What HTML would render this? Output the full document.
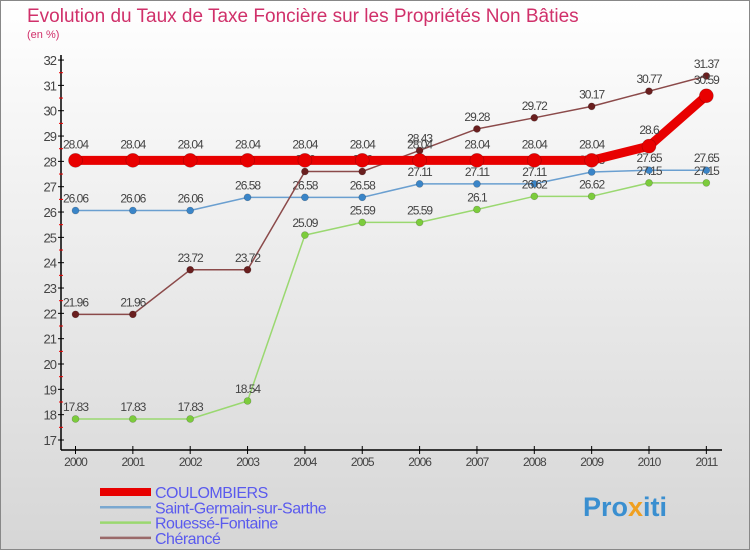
<!DOCTYPE html>
<html><head><meta charset="utf-8"><style>
body{margin:0;width:750px;height:550px;overflow:hidden;font-family:"Liberation Sans",sans-serif}
svg{display:block}
</style></head><body>
<svg id="c" width="750" height="550" xmlns="http://www.w3.org/2000/svg">
<defs><linearGradient id="bg" x1="0" y1="0" x2="0" y2="1"><stop offset="0" stop-color="#ffffff"/><stop offset="1" stop-color="#d6d6d6"/></linearGradient></defs>
<rect x="0.5" y="0.5" width="749" height="549" fill="url(#bg)" stroke="#888"/>
<text x="27" y="22" font-size="19" fill="#d0306a">Evolution du Taux de Taxe Foncière sur les Propriétés Non Bâties</text>
<text x="27" y="38" font-size="11" fill="#d0306a">(en %)</text>
<g id="axes"></g><g id="series"></g><g id="legend"></g>
<text x="583" y="516" font-size="27" font-weight="bold" fill="#3a8fd0">Pro<tspan fill="#f0a020">x</tspan>iti</text>
</svg>
<script>
const years=[2000,2001,2002,2003,2004,2005,2006,2007,2008,2009,2010,2011];
const yTicks=[17,18,19,20,21,22,23,24,25,26,27,28,29,30,31,32];
const coulombiers=[28.04,28.04,28.04,28.04,28.04,28.04,28.04,28.04,28.04,28.04,28.6,30.59];
const saintGermain=[26.06,26.06,26.06,26.58,26.58,26.58,27.11,27.11,27.11,27.58,27.65,27.65];
const rouesse=[17.83,17.83,17.83,18.54,25.09,25.59,25.59,26.1,26.62,26.62,27.15,27.15];
const cherance=[21.96,21.96,23.72,23.72,27.6,27.6,28.43,29.28,29.72,30.17,30.77,31.37];
const NS="http://www.w3.org/2000/svg";
const X=i=>75.5+i*57.35;
const Y=v=>440-(v-17)*25.33;
function mk(tag,attrs,parent,txt){const e=document.createElementNS(NS,tag);for(const k in attrs)e.setAttribute(k,attrs[k]);if(txt!==undefined)e.textContent=txt;parent.appendChild(e);return e;}
const ax=document.getElementById('axes');
let a=mk('line',{x1:61,y1:55,x2:61,y2:450,stroke:'#000','stroke-width':1.5},ax);


a=mk('line',{x1:61,y1:450,x2:722,y2:450,stroke:'#000','stroke-width':1.5},ax);


yTicks.forEach((v,i)=>{
 mk('line',{x1:58,y1:Y(v),x2:64,y2:Y(v),stroke:'#000'},ax);
 if(i<yTicks.length-1) mk('line',{x1:59,y1:Y(v+0.5),x2:63,y2:Y(v+0.5),stroke:'#e00'},ax);
 const t=mk('text',{x:56,y:Y(v)+5,'font-size':13,'text-anchor':'end',fill:'#444','letter-spacing':'-1'},ax,v);
 
 
});
years.forEach((y,i)=>{
 mk('line',{x1:X(i),y1:446,x2:X(i),y2:454,stroke:'#000'},ax);
 const t=mk('text',{x:X(i),y:466,'font-size':12,'text-anchor':'middle',fill:'#444','letter-spacing':'-1'},ax,y);
 
 
});
const sg=document.getElementById('series');
function draw(data,name,color,w,r,fill,dy){
 const g=mk('g',{},sg);
 
 
 const p=mk('polyline',{points:data.map((v,i)=>X(i)+','+Y(v)).join(' '),fill:'none',stroke:color,'stroke-width':w,'stroke-linejoin':'round'},g);
 
 
 data.forEach((v,i)=>{
  const c=mk('circle',{cx:X(i),cy:Y(v),r:r,fill:fill,stroke:'rgba(0,0,0,0.25)','stroke-width':0.6},g);
  
  
  const t=mk('text',{x:X(i),y:Y(v)+dy,'font-size':12,'text-anchor':'middle',fill:'#444','letter-spacing':'-1'},g,v);
  
  
 });
}
draw(saintGermain,'saint-germain','#6a9fd0',1.5,3.5,'#3a85c8',-8);
draw(rouesse,'rouesse','#9ad870',1.5,3.5,'#7ccc3c',-8);
draw(cherance,'cherance','#8b4a4a',1.5,3.5,'#6a1f1f',-8);
draw(coulombiers,'coulombiers','#e80000',9,7,'#e80000',-12);
const lg=document.getElementById('legend');
const leg=[['COULOMBIERS','#e80000',8],['Saint-Germain-sur-Sarthe','#7aa8d0',2.5],['Rouessé-Fontaine','#9ad870',2.5],['Chérancé','#9a6a6a',2.5]];
leg.forEach((l,i)=>{
 const y=492+i*15.3;
 const g=mk('g',{},lg);
 
 
 mk('line',{x1:100,y1:y,x2:151,y2:y,stroke:l[1],'stroke-width':l[2]},g);
 mk('text',{x:155,y:y+6,'font-size':16,fill:'#5a5aee','letter-spacing':'-0.5'},g,l[0]);
});
</script>
</body></html>
